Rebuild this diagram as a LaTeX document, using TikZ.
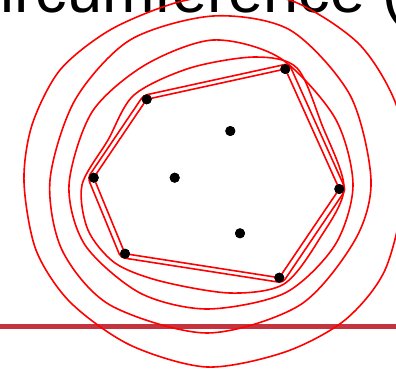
\documentclass[tikz,border=0pt]{standalone}
\usepackage{fontspec}
\newfontfamily\titlefont{Liberation Sans}
\usetikzlibrary{calc}
\definecolor{barred}{RGB}{196,52,62}

\begin{document}
\begin{tikzpicture}[x=1pt, y=-1pt,
    ring/.style={red, line width=1.6pt},
    dot/.style={circle, fill=black, inner sep=0pt, minimum size=10pt}]

    \useasboundingbox (0,0) rectangle (396,368);

    \node[anchor=base west, inner sep=0pt, font=\titlefont\fontsize{63}{63}\selectfont] (title) at (0.8,12.5) {ircumference (};

    \draw[barred, line width=5pt] (0,326) coordinate(barL) -- (396,326) coordinate(barR);

    % the points
    \coordinate (ctr) at (211,177);
    \node[dot] (pA) at (285.3,69) {};
    \node[dot] (pB) at (146.7,99.3) {};
    \node[dot] (pC) at (230.3,131) {};
    \node[dot] (pD) at (93.7,177.7) {};
    \node[dot] (pE) at (174.7,177.7) {};
    \node[dot] (pF) at (339.3,189) {};
    \node[dot] (pG) at (240,233.3) {};
    \node[dot] (pH) at (125,253.7) {};
    \node[dot] (pI) at (279.3,277.7) {};

    % hull and the curves round it
    \draw[ring] (pA.center) -- (pB.center) -- (pD.center) -- (pH.center) -- (pI.center) -- (pF.center) -- cycle;
    \draw[ring, rounded corners=4pt] ($(ctr)!1.05!(pA)$) -- ($(ctr)!1.05!(pB)$) -- ($(ctr)!1.05!(pD)$)
        -- ($(ctr)!1.05!(pH)$) -- ($(ctr)!1.05!(pI)$) -- ($(ctr)!1.05!(pF)$) -- cycle;
    \draw[ring] plot[smooth cycle] coordinates {(82,185) (108,140) (134,95) (190,68) (255,57)
        (297,68) (322,125) (344,188) (320,238) (284,284) (230,293) (160,281) (115,263) (88,230)};
    \draw[ring] plot[smooth cycle] coordinates {(69,185) (85,245) (140,293) (207,309) (285,293)
        (335,245) (353,185) (335,118) (280,58) (213,40) (145,65) (92,112)};
    \draw[ring] plot[smooth cycle] coordinates {(50,180) (62,250) (110,305) (207,333) (300,305)
        (355,240) (371,180) (350,95) (290,30) (213,16) (130,40) (75,100)};
    \draw[ring] plot[smooth cycle] coordinates {(24,182) (36,250) (70,302) (130,345) (207,367)
        (285,352) (345,320) (385,270) (404,190) (398,110) (360,45) (295,2) (235,-6) (175,3)
        (110,30) (60,70) (32,125)};

    % dots again on top
    \foreach \p in {pA,pB,pC,pD,pE,pF,pG,pH,pI}
        \fill (\p) circle (5pt);

\end{tikzpicture}
\end{document}
